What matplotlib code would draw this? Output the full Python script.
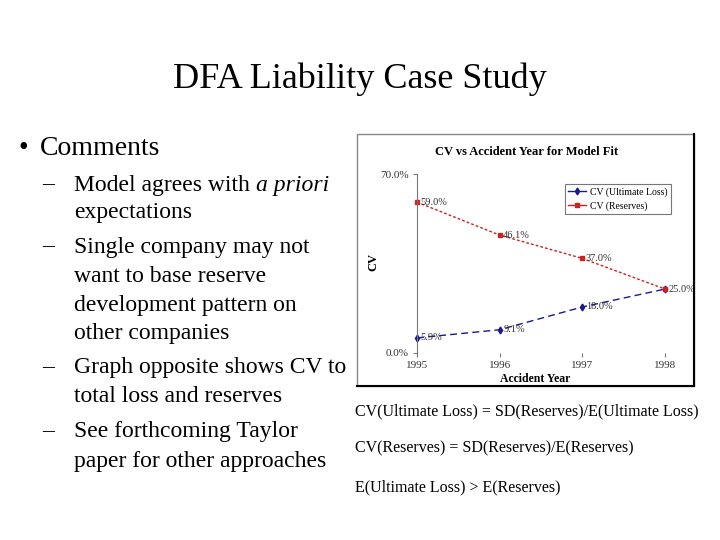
import numpy as np
import matplotlib.pyplot as plt
from matplotlib.patches import Rectangle
from matplotlib.lines import Line2D

plt.rcParams['font.family'] = ['Liberation Serif', 'DejaVu Serif']

years = [1995, 1996, 1997, 1998]
year_labels = ['1995', '1996', '1997', '1998']
cv_ultimate = [0.059, 0.091, 0.180, 0.250]
cv_reserves = [0.590, 0.461, 0.370, 0.250]

W, H = 720, 540
fig = plt.figure(figsize=(7.2, 5.4), dpi=100)
fig.patch.set_facecolor('white')


def fx(px):
    return px / W


def fy(py):
    return 1 - py / H


# slide text
fig.text(fx(360), fy(79), 'DFA Liability Case Study', ha='center', va='center', fontsize=26)
fig.text(fx(18), fy(148), '\u2022', ha='left', va='center', fontsize=20)
fig.text(fx(40), fy(148), 'Comments', ha='left', va='center', fontsize=20)

lines = [
    (185, '\u2013', 'Model agrees with '),
    (213, None, 'expectations'),
    (247, '\u2013', 'Single company may not'),
    (276, None, 'want to base reserve'),
    (305, None, 'development pattern on'),
    (334, None, 'other companies'),
    (368, '\u2013', 'Graph opposite shows CV to'),
    (397, None, 'total loss and reserves'),
    (432, '\u2013', 'See forthcoming Taylor'),
    (461, None, 'paper for other approaches'),
]
first = None
for yy, dash, txt in lines:
    if dash:
        fig.text(fx(42), fy(yy), dash, ha='left', va='center', fontsize=17)
    t = fig.text(fx(74), fy(yy), txt, ha='left', va='center', fontsize=17)
    if first is None:
        first = t

fig.canvas.draw()
bb = first.get_window_extent(renderer=fig.canvas.get_renderer())
fig.text(bb.x1 / W, fy(185), 'a priori', ha='left', va='center', fontsize=17, style='italic')

fig.text(fx(355), fy(411), 'CV(Ultimate Loss) = SD(Reserves)/E(Ultimate Loss)', ha='left', va='center', fontsize=11.5)
fig.text(fx(355), fy(448), 'CV(Reserves) = SD(Reserves)/E(Reserves)', ha='left', va='center', fontsize=11.5)
fig.text(fx(355), fy(487), 'E(Ultimate Loss) > E(Reserves)', ha='left', va='center', fontsize=11.5)

# chart frame
fig.patches.append(Rectangle((fx(357), fy(386)), fx(694) - fx(357), fy(134) - fy(386),
                             transform=fig.transFigure, fill=False, edgecolor='#888888', lw=1))
fig.lines.append(Line2D([fx(694), fx(694)], [fy(386), fy(134)], transform=fig.transFigure, color='black', lw=1.5))
fig.lines.append(Line2D([fx(357), fx(694)], [fy(386), fy(386)], transform=fig.transFigure, color='black', lw=1.5))

fig.text(fx(527), fy(152), 'CV vs Accident Year for Model Fit', ha='center', va='center', fontsize=9, weight='bold')
fig.text(fx(373), fy(262), 'CV', ha='center', va='center', fontsize=9, weight='bold', rotation=90)
fig.text(fx(535), fy(379), 'Accident Year', ha='center', va='center', fontsize=8.5, weight='bold')

ax = fig.add_axes([fx(417), fy(353), fx(665) - fx(417), fy(174) - fy(353)])
ax.set_facecolor('none')
ax.plot(years, cv_ultimate, color='#1a1a8c', ls=(0, (5, 3)), lw=1, marker='d', ms=3.5,
        clip_on=False, label='CV (Ultimate Loss)')
ax.plot(years, cv_reserves, color='#cc2222', ls=(0, (2, 1.5)), lw=1, marker='s', ms=3,
        clip_on=False, label='CV (Reserves)')
for xv, yv in zip(years, cv_ultimate):
    if xv == 1998:
        continue
    ax.annotate('%.1f%%' % (yv * 100), (xv, yv), xytext=(2.5, 0), textcoords='offset points',
                ha='left', va='center', fontsize=7.5, color='#333333', annotation_clip=False)
for xv, yv in zip(years, cv_reserves):
    ax.annotate('%.1f%%' % (yv * 100), (xv, yv), xytext=(2.5, 0), textcoords='offset points',
                ha='left', va='center', fontsize=7.5, color='#333333', annotation_clip=False)

ax.set_xlim(1995, 1998)
ax.set_ylim(0, 0.70)
ax.set_xticks(years)
ax.set_xticklabels(year_labels)
ax.set_yticks([0, 0.70])
ax.set_yticklabels(['0.0%', '70.0%'])
for s in ['top', 'right', 'bottom']:
    ax.spines[s].set_visible(False)
ax.spines['left'].set_color('#777777')
ax.tick_params(axis='both', labelsize=8, length=3, color='#777777', labelcolor='#333333', pad=3)

# legend handles drawn as solid lines like the original
handles = [Line2D([], [], color='#1a1a8c', lw=1, marker='d', ms=3.5),
           Line2D([], [], color='#cc2222', lw=1, marker='s', ms=3)]
leg = ax.legend(handles, ['CV (Ultimate Loss)', 'CV (Reserves)'], loc='upper left',
                bbox_to_anchor=(fx(565), fy(184)), bbox_transform=fig.transFigure,
                fontsize=7, frameon=True, fancybox=False, borderaxespad=0, handlelength=1.8,
                handletextpad=0.4, labelspacing=0.4, borderpad=0.35)
leg.get_frame().set_edgecolor('#555555')
leg.get_frame().set_linewidth(0.8)

fig.savefig('out.png', dpi=100, facecolor='white')
